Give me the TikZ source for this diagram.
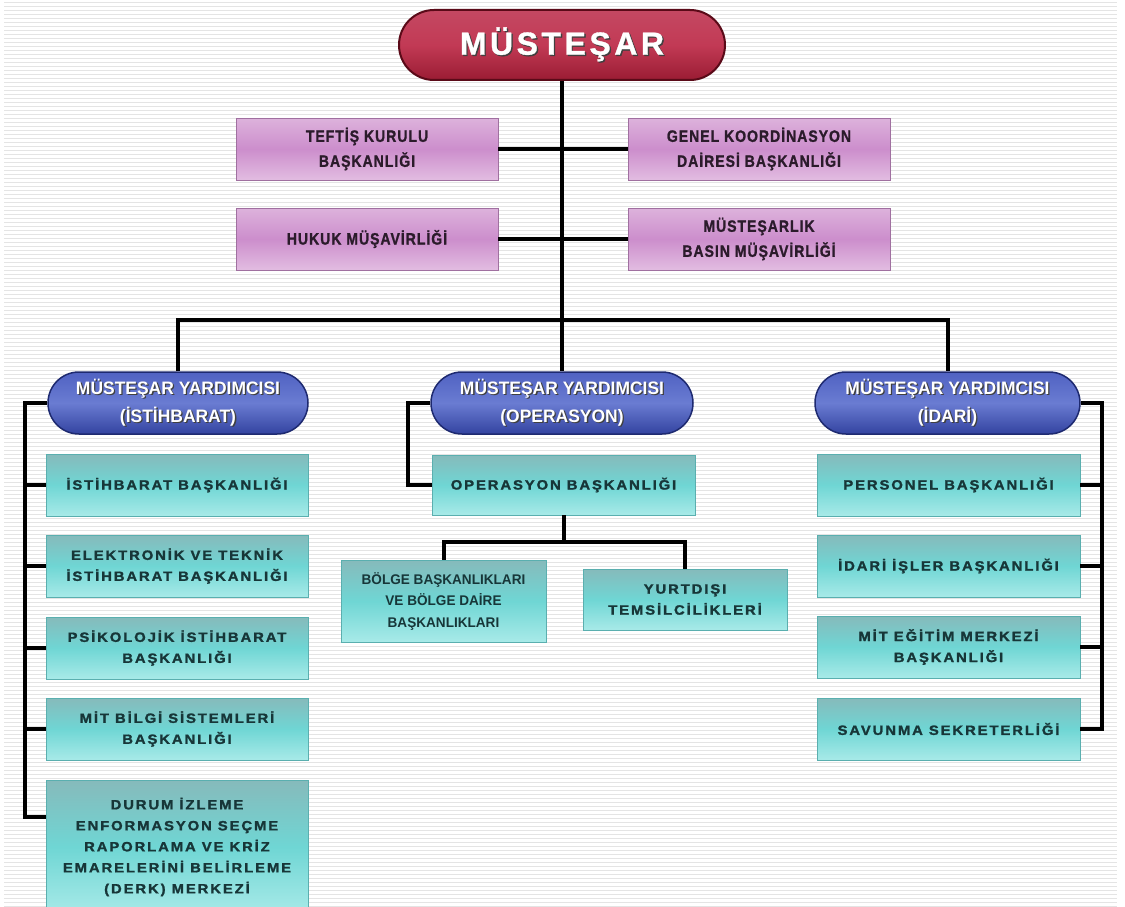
\documentclass[tikz,border=0pt]{standalone}
\usepackage{fontspec}
\setmainfont{Liberation Sans}
\newfontfamily\lilacfont[LetterSpace=6, FakeStretch=0.85, FakeBold=1.2]{Liberation Sans}
\newfontfamily\tealfont[LetterSpace=14, FakeStretch=1.1, FakeBold=1.5]{Liberation Sans}
\newfontfamily\topfont[LetterSpace=11, FakeBold=1]{Liberation Sans}
\newfontfamily\pillfont[FakeStretch=0.97]{Liberation Sans}
\usetikzlibrary{positioning}

\definecolor{rimred}{HTML}{5A0A18}
\definecolor{pilltop}{HTML}{C44862}
\definecolor{pillmid}{HTML}{C23A55}
\definecolor{pillbot}{HTML}{9A1C33}
\definecolor{rimblue}{HTML}{1E2A70}
\definecolor{bluetop}{HTML}{5062C2}
\definecolor{bluemid}{HTML}{6A7CD2}
\definecolor{bluebot}{HTML}{3343A0}
\definecolor{lilactop}{HTML}{DDB2DC}
\definecolor{lilacmid}{HTML}{CC8ECC}
\definecolor{lilacbot}{HTML}{E2BCE1}
\definecolor{lilacrim}{HTML}{A070A0}
\definecolor{lilacink}{HTML}{2B1B2B}
\definecolor{tealtop}{HTML}{86BABB}
\definecolor{tealmid}{HTML}{6FD6D4}
\definecolor{tealbot}{HTML}{A8EAE8}
\definecolor{tealrim}{HTML}{5AAFAF}
\definecolor{tealink}{HTML}{173638}
\definecolor{stripegray}{HTML}{E4E4E4}

% white text with a dark drop shadow
\newcommand\shadowed[1]{\rlap{\kern1.3pt\raisebox{-1.3pt}{\textcolor{black!75}{#1}}}#1}

\tikzset{
  link/.style={line width=4pt, black},
  stripe/.style={stripegray, line width=0.8pt},
  chief/.style={draw=rimred, line width=2pt, rounded corners=35pt,
    top color=pilltop, bottom color=pillbot, middle color=pillmid,
    minimum width=326pt, minimum height=70pt, inner sep=0pt,
    text=white, font=\topfont\bfseries\fontsize{32}{34}\selectfont},
  deputy/.style={draw=rimblue, line width=1.5pt, rounded corners=31pt,
    top color=bluetop, bottom color=bluebot, middle color=bluemid,
    minimum height=62pt, inner sep=0pt, align=center, text=white,
    font=\pillfont\bfseries\fontsize{18}{28}\selectfont},
  lilacbox/.style={draw=lilacrim, line width=0.8pt,
    top color=lilactop, bottom color=lilacbot, middle color=lilacmid,
    minimum width=262pt, minimum height=62pt, inner sep=0pt, align=center,
    text=lilacink, font=\lilacfont\bfseries\fontsize{16.5}{25}\selectfont},
  tealbox/.style={draw=tealrim, line width=0.8pt,
    top color=tealtop, bottom color=tealbot, middle color=tealmid,
    minimum width=262pt, minimum height=62pt, inner sep=0pt, align=center,
    text=tealink, font=\tealfont\bfseries\fontsize{13.5}{21}\selectfont},
}

\begin{document}
\begin{tikzpicture}[x=1pt, y=-1pt]
    \useasboundingbox (0,0) rectangle (1125,907);
    \fill[white] (0,0) rectangle (1125,907);

    % Lined background
    \foreach \y in {2,6,...,906} {
        \draw[stripe] (4,\y) -- (1117,\y);
    }

    % Top
    \node[chief] (mustesar) at (562,45) {\shadowed{MÜSTEŞAR}};

    % Advisory units
    \node[lilacbox] (teftis) at (367,149) {TEFTİŞ KURULU\\BAŞKANLIĞI};
    \node[lilacbox] (genel) at (759,149) {GENEL KOORDİNASYON\\DAİRESİ BAŞKANLIĞI};
    \node[lilacbox] (hukuk) at (367,239) {HUKUK MÜŞAVİRLİĞİ};
    \node[lilacbox] (basin) at (759,239) {MÜSTEŞARLIK\\BASIN MÜŞAVİRLİĞİ};

    % Deputies
    \node[deputy, minimum width=260pt] (myistih) at (178,403)
        {\shadowed{MÜSTEŞAR YARDIMCISI}\\\shadowed{(İSTİHBARAT)}};
    \node[deputy, minimum width=262pt] (myops) at (562,403)
        {\shadowed{MÜSTEŞAR YARDIMCISI}\\\shadowed{(OPERASYON)}};
    \node[deputy, minimum width=265pt] (myidari) at (947.5,403)
        {\shadowed{MÜSTEŞAR YARDIMCISI}\\\shadowed{(İDARİ)}};

    % Intelligence branch
    \node[tealbox] (istih) at (177,485) {İSTİHBARAT BAŞKANLIĞI};
    \node[tealbox] (elektronik) at (177,566) {ELEKTRONİK VE TEKNİK\\İSTİHBARAT BAŞKANLIĞI};
    \node[tealbox] (psikolojik) at (177,648) {PSİKOLOJİK İSTİHBARAT\\BAŞKANLIĞI};
    \node[tealbox] (bilgi) at (177,729) {MİT BİLGİ SİSTEMLERİ\\BAŞKANLIĞI};
    \node[tealbox, minimum height=134pt] (derk) at (177,847)
        {DURUM İZLEME\\ENFORMASYON SEÇME\\RAPORLAMA VE KRİZ\\EMARELERİNİ BELİRLEME\\(DERK) MERKEZİ};

    % Operations branch
    \node[tealbox, minimum width=263pt, minimum height=60pt] (opsbsk) at (563.5,485) {OPERASYON BAŞKANLIĞI};
    \node[tealbox, minimum width=205pt, minimum height=82pt,
          font=\pillfont\bfseries\fontsize{14}{21.5}\selectfont] (bolge) at (443.5,601)
        {BÖLGE BAŞKANLIKLARI\\VE BÖLGE DAİRE\\BAŞKANLIKLARI};
    \node[tealbox, minimum width=204pt, minimum height=61pt] (yurtdisi) at (685,599.5)
        {YURTDIŞI\\TEMSİLCİLİKLERİ};

    % Administrative branch
    \node[tealbox, minimum width=263pt] (personel) at (948.5,485) {PERSONEL BAŞKANLIĞI};
    \node[tealbox, minimum width=263pt] (idariisler) at (948.5,566) {İDARİ İŞLER BAŞKANLIĞI};
    \node[tealbox, minimum width=263pt] (egitim) at (948.5,647) {MİT EĞİTİM MERKEZİ\\BAŞKANLIĞI};
    \node[tealbox, minimum width=263pt] (savunma) at (948.5,729) {SAVUNMA SEKRETERLİĞİ};

    % Connectors
    \coordinate (bus) at (562,320);
    \coordinate (lrail) at (25,817);
    \coordinate (rrail) at (1102,729);

    \draw[link] (mustesar.south) -- (myops.north);
    \draw[link] (teftis.east) -- (genel.west);
    \draw[link] (hukuk.east) -- (basin.west);
    \draw[link] (myistih.north) |- (bus) -| (myidari.north);

    \draw[link] (myistih.west) -| (lrail) -- (lrail -| derk.west);
    \foreach \n in {istih, elektronik, psikolojik, bilgi} {
        \draw[link] (\n.west) -- (\n.west -| lrail);
    }

    \draw[link] (myops.west) -- ++(-22,0) |- (opsbsk.west);
    \draw[link] (opsbsk.south) -- ++(0,27) coordinate (obus);
    \draw[link] (bolge.north) |- (obus) -| (yurtdisi.north);

    \draw[link] (myidari.east) -| (rrail) -- (savunma.east);
    \foreach \n in {personel, idariisler, egitim} {
        \draw[link] (\n.east) -- (\n.east -| rrail);
    }
\end{tikzpicture}
\end{document}
